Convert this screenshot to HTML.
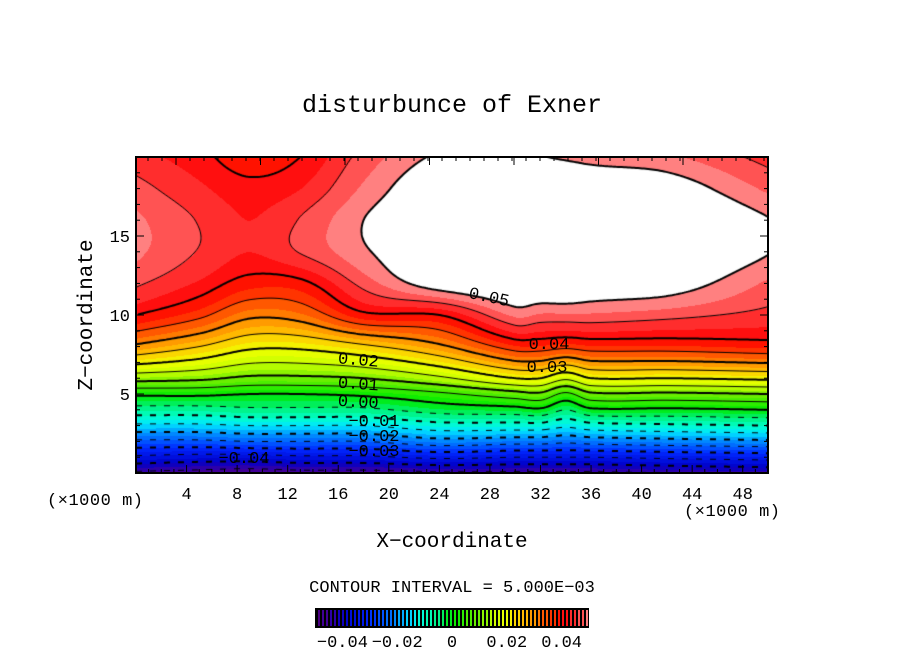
<!DOCTYPE html>
<html><head><meta charset="utf-8"><style>
body{margin:0;background:#fff;width:904px;height:654px;overflow:hidden;position:relative;font-family:"Liberation Mono",monospace}
#plot{position:absolute;left:136px;top:157px}
svg{position:absolute;left:0;top:0;font-family:"Liberation Mono",monospace}
</style></head><body>
<canvas id="plot" width="632" height="316"></canvas>
<svg id="ov" width="904" height="654"></svg>
<script>
const xs=[0,5,9,13,18,24,30,32,34,36,42,50];
const zs=[0,1,2,3,4,5,6,8,10,12,14,16,18,20];
const colX0 =[-0.046,-0.036,-0.026,-0.016,-0.007,0.001,0.012,0.029,0.040,0.0455,0.048,0.048,0.046,0.0435];
const colX5 =[-0.047,-0.037,-0.026,-0.016,-0.007,0.001,0.011,0.025,0.036,0.042,0.0448,0.0448,0.043,0.041];
const colX9 =[-0.048,-0.037,-0.025,-0.015,-0.006,0.000,0.009,0.021,0.031,0.0385,0.0425,0.0425,0.041,0.038];
const colX13=[-0.047,-0.036,-0.025,-0.015,-0.006,0.000,0.009,0.021,0.032,0.039,0.0452,0.0452,0.0425,0.040];
const colX18=[-0.047,-0.036,-0.025,-0.015,-0.006,0.001,0.010,0.024,0.039,0.046,0.0495,0.050,0.048,0.046];
const colX24=[-0.046,-0.034,-0.022,-0.012,-0.003,0.004,0.014,0.029,0.040,0.052,0.054,0.054,0.053,0.0505];
const colX30=[-0.046,-0.035,-0.023,-0.012,-0.002,0.008,0.020,0.037,0.048,0.054,0.056,0.057,0.055,0.051];
const colX32=[-0.046,-0.035,-0.023,-0.012,-0.001,0.009,0.020,0.037,0.047,0.054,0.056,0.057,0.055,0.0502];
const colX34=[-0.046,-0.035,-0.024,-0.014,-0.005,0.004,0.016,0.036,0.047,0.054,0.056,0.056,0.054,0.0495];
const colX36=[-0.046,-0.035,-0.023,-0.012,-0.001,0.009,0.020,0.037,0.047,0.053,0.056,0.056,0.053,0.049];
const colX42=[-0.045,-0.034,-0.022,-0.011,-0.001,0.009,0.020,0.037,0.046,0.052,0.0545,0.0545,0.052,0.048];
const colX50=[-0.044,-0.033,-0.021,-0.010,0.000,0.010,0.021,0.038,0.044,0.047,0.0502,0.0502,0.047,0.044];
const field=[colX0,colX5,colX9,colX13,colX18,colX24,colX30,colX32,colX34,colX36,colX42,colX50];
const xTicks=[4,8,12,16,20,24,28,32,36,40,44,48];
const zTicks=[5,10,15];
const cbTicks=[-0.04,-0.02,0,0.02,0.04];
const cbLabels=["\u22120.04","\u22120.02","0","0.02","0.04"];
const stops=[[-0.05,[80,0,120]],[-0.045,[60,0,160]],[-0.04,[0,0,200]],[-0.03,[0,40,255]],[-0.02,[0,150,255]],[-0.015,[0,230,255]],[-0.01,[0,255,200]],[-0.005,[0,240,120]],[0,[0,235,0]],[0.01,[120,240,0]],[0.015,[200,255,0]],[0.02,[240,255,0]],[0.025,[255,200,0]],[0.03,[255,140,0]],[0.035,[255,70,0]],[0.04,[255,0,0]],[0.045,[255,60,60]],[0.05,[255,150,150]]];

const PX=136,PY=157,PW=632,PH=316;
const sx=x=>PX+x/50*PW, sz=z=>PY+PH-z/20*PH;
function interp(a,f,v){let i=0;while(i<a.length-2&&v>a[i+1])i++;
 const h=a[i+1]-a[i];let t=(v-a[i])/h;t=Math.max(0,Math.min(1,t));
 const m=k=>{if(k<=0)return (f[1]-f[0])/(a[1]-a[0]);if(k>=a.length-1)return (f[k]-f[k-1])/(a[k]-a[k-1]);return (f[k+1]-f[k-1])/(a[k+1]-a[k-1]);};
 const t2=t*t,t3=t2*t;
 return (2*t3-3*t2+1)*f[i]+(t3-2*t2+t)*h*m(i)+(-2*t3+3*t2)*f[i+1]+(t3-t2)*h*m(i+1);}
function val(x,z){const col=field.map(c=>interp(zs,c,z));return interp(xs,col,x);}
function color(v){if(v>=0.05)return[255,255,255];
 const q=Math.floor(v/0.0025)*0.0025+0.00125;
 if(q<=stops[0][0])return stops[0][1];
 for(let k=0;k<stops.length-1;k++){if(q<=stops[k+1][0]){const t=(q-stops[k][0])/(stops[k+1][0]-stops[k][0]);return stops[k][1].map((c,m)=>Math.round(c+(stops[k+1][1][m]-c)*t));}}
 return stops[stops.length-1][1];}
const cv=document.getElementById('plot'),ctx=cv.getContext('2d');
const st=2,NX=PW/st,NZ=PH/st,G=[];
for(let i=0;i<=NX;i++){G[i]=[];for(let j=0;j<=NZ;j++)G[i][j]=val(i*st/PW*50,(PH-j*st)/PH*20);}
const img=ctx.createImageData(PW,PH);
for(let py=0;py<PH;py++)for(let px=0;px<PW;px++){
 const fi=px/st,fj=py/st,i=Math.min(NX-1,Math.floor(fi)),j=Math.min(NZ-1,Math.floor(fj)),tx=fi-i,tz=fj-j;
 const v=(G[i][j]*(1-tx)+G[i+1][j]*tx)*(1-tz)+(G[i][j+1]*(1-tx)+G[i+1][j+1]*tx)*tz;
 const c=color(v);const o=(py*PW+px)*4;img.data[o]=c[0];img.data[o+1]=c[1];img.data[o+2]=c[2];img.data[o+3]=255;}
ctx.putImageData(img,0,0);
ctx.strokeStyle='#000';
for(let L=-9;L<=10;L++){const lv=L*0.005;ctx.lineWidth=(L%2===0)?2:1;ctx.beginPath();
 for(let i=0;i<NX;i++)for(let j=0;j<NZ;j++){
  const p=[[i,j,G[i][j]],[i+1,j,G[i+1][j]],[i+1,j+1,G[i+1][j+1]],[i,j+1,G[i][j+1]]];const pts=[];
  for(let k=0;k<4;k++){const A=p[k],B=p[(k+1)%4];if((A[2]-lv)*(B[2]-lv)<0){const t=(lv-A[2])/(B[2]-A[2]);pts.push([(A[0]+(B[0]-A[0])*t)*st,(A[1]+(B[1]-A[1])*t)*st]);}}
  for(let k=0;k+1<pts.length;k+=2){const mx=(pts[k][0]+pts[k+1][0])/2;if(L<0&&Math.floor(mx/7)%2===1)continue;ctx.moveTo(pts[k][0],pts[k][1]);ctx.lineTo(pts[k+1][0],pts[k+1][1]);}
 }ctx.stroke();}

const ov=document.getElementById('ov');const NS='http://www.w3.org/2000/svg';
function mk(tag,attrs,name,text){const e=document.createElementNS(NS,tag);for(const k in attrs)e.setAttribute(k,attrs[k]);
 
 
 if(text!==undefined)e.textContent=text;ov.appendChild(e);return e;}
mk('rect',{x:PX,y:PY,width:PW,height:PH,fill:'none',stroke:'#000','stroke-width':2},'plot-frame');
for(let x=1;x<50;x++){const major=x%4===0;const X=sx(x);mk('line',{x1:X,x2:X,y1:PY+PH,y2:PY+PH-(major?8:4),stroke:'#000','stroke-width':1},'x-tick');}
for(let k=0;k<7;k++){const X=176+84.5*k;if(X<PX+PW)mk('line',{x1:X,x2:X,y1:PY,y2:PY+8,stroke:'#000'},'top-tick');}
for(let X=148;X<PX+PW;X+=14)mk('line',{x1:X,x2:X,y1:PY,y2:PY+4,stroke:'#000'},'top-minor-tick');
for(let z=1;z<20;z++){const major=z%5===0;const Y=sz(z);
 mk('line',{x1:PX,x2:PX+(major?8:4),y1:Y,y2:Y,stroke:'#000'},'y-tick');
 mk('line',{x1:PX+PW,x2:PX+PW-(major?8:4),y1:Y,y2:Y,stroke:'#000'},'y-tick-right');}
xTicks.forEach(x=>mk('text',{x:sx(x),y:499,'font-size':17,'text-anchor':'middle'},'x-tick-label',String(x)));
zTicks.forEach(z=>mk('text',{x:130,y:sz(z)+6,'font-size':17,'text-anchor':'end'},'y-tick-label',String(z)));
mk('text',{x:47,y:505,'font-size':17,textLength:96},'x-unit-left','(\u00d71000 m)');
mk('text',{x:684,y:516,'font-size':17,textLength:96},'x-unit-right','(\u00d71000 m)');
mk('text',{x:452,y:547,'font-size':21,'text-anchor':'middle'},'x-axis-title','X\u2212coordinate');
mk('text',{x:92,y:315,'font-size':21,'text-anchor':'middle',transform:'rotate(-90 92 315)'},'y-axis-title','Z\u2212coordinate');
mk('text',{x:452,y:112,'font-size':25,'text-anchor':'middle'},'chart-title','disturbunce of Exner');
mk('text',{x:452,y:592,'font-size':17,'text-anchor':'middle'},'contour-interval','CONTOUR INTERVAL = 5.000E\u221203');
const labs=[[488,302,'0.05',12],[549,349,'0.04',0],[547,372,'0.03',0],[358,365,'0.02',5],[358,389,'0.01',4],[358,407,'0.00',3],[374,426,'\u22120.01',0],[374,441,'\u22120.02',0],[374,456,'\u22120.03',0],[244,463,'\u22120.04',0]];
labs.forEach(l=>mk('text',{x:l[0],y:l[1],'font-size':17,'text-anchor':'middle',transform:`rotate(${l[3]} ${l[0]} ${l[1]})`},'contour-label',l[2]));
mk('rect',{x:315,y:608,width:274,height:20,fill:'#000'},'colorbar');
for(let X=318;X<588;X+=4){const v=-0.05+(X-315)/274*0.1;const c=color(Math.min(v,0.0499));mk('rect',{x:X,y:610,width:2,height:16,fill:`rgb(${c})`},'colorbar-swatch');}
cbTicks.forEach((t,k)=>mk('text',{x:452+t/0.05*137,y:647,'font-size':17,'text-anchor':'middle'},'colorbar-label',cbLabels[k]));
</script></body></html>
